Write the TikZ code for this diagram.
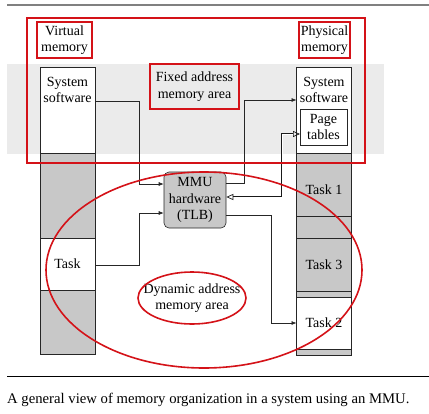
\documentclass[tikz,border=0pt]{standalone}
\usepackage{fontspec}
\setmainfont{Liberation Serif}
\usetikzlibrary{arrows.meta, positioning, shapes.geometric}
\definecolor{markred}{RGB}{212,18,24}
\definecolor{band}{RGB}{235,235,235}
\definecolor{used}{RGB}{200,200,200}
\tikzset{%
	seg/.style={
		draw=black!85,
		line width=0.6pt,
		fill=white,
		inner sep=0pt,
		outer sep=0pt,
		minimum width=55pt
	},
	busy/.style={seg, fill=used},
	txt/.style={align=center, inner sep=0pt},
	redbox/.style={draw=markred, line width=1.6pt, inner sep=0pt, align=center},
	redline/.style={draw=markred, line width=1.6pt},
	wire/.style={draw=black!85, line width=0.6pt, -{Latex[length=5pt,width=4pt]}},
	dbl/.style={
		draw=black!90, line width=0.75pt, double=white, double distance=1pt,
		{Triangle[open,length=7pt,width=6pt,line width=0.7pt]}-{Triangle[open,length=7pt,width=6pt,line width=0.7pt]}
	},
}
\begin{document}
\begin{tikzpicture}[x=1pt, y=-1pt, font=\fontsize{14pt}{16.5pt}\selectfont]
			\useasboundingbox (0,0) rectangle (429,413);
			\draw[black!50, line width=1.2pt] (7,5) -- (429,5);
			\fill[band] (7,64) rectangle (384,154);
			
			% virtual memory
			\node[seg, minimum height=86pt] (vsys) at (67.5,110) {};
			\node[busy, minimum height=85pt] (vfree1) at (67.5,195.5) {};
			\node[seg, minimum height=52pt] (vtask) at (67.5,264) {Task};
			\node[busy, minimum height=64pt] (vfree2) at (67.5,322) {};
			\node[txt] (vsystxt) at (67.5,90) {System\\software};
			
			% physical memory
			\node[seg, minimum height=86pt] (psys) at (324,110) {};
			\node[busy, minimum height=63pt, label={[txt,yshift=-5.5pt]center:Task 1}] (ptask1) at (324,184.5) {};
			\node[busy, minimum height=22pt] (pfree1) at (324,227) {};
			\node[busy, minimum height=53pt] (ptask3) at (324,264.5) {Task 3};
			\node[busy, minimum height=6pt] (pfree2) at (324,294) {};
			\node[seg, minimum height=52pt] (ptask2) at (324,323) {Task 2};
			\node[busy, minimum height=6pt] (pfree3) at (324,352) {};
			\node[txt] (psystxt) at (324,90) {System\\software};
			\node[seg, minimum width=47pt, minimum height=36pt, align=center] (ptab) at (323.5,127) {Page\\tables};
			
			\node[draw=black!85, line width=0.6pt, fill=used, rounded corners=5pt, minimum width=62pt, minimum height=56pt, inner sep=0pt, align=center] (mmu) at (195,200) {MMU\\hardware\\(TLB)};
			
			\draw[wire] (vsys.east |- 0,101) -- (139,101) -- (139,184) -- (mmu.west |- 0,184);
			\draw[wire] (vtask.east |- 0,265) -- (139,265) -- (139,213) -- (mmu.west |- 0,213);
			\draw[wire] (mmu.east |- 0,183) -- (244,183) -- (244,100) -- (psys.west |- 0,100);
			\draw[wire] (mmu.east |- 0,215) -- (271,215) -- (271,323) -- (ptask2.west |- 0,323);
			\draw[dbl] (ptab.west |- 0,134) -- (282,134) -- (282,197) -- (mmu.east |- 0,197);
			
			% marked areas
			\draw[redline] (27,18) rectangle (365,163);
			\node[redbox, minimum width=55pt, minimum height=36pt] (vlabel) at (64.5,40) {Virtual\\memory};
			\node[redbox, minimum width=51pt, minimum height=36pt] (plabel) at (324.5,40) {Physical\\memory};
			\node[redbox, fill=band, minimum width=89pt, minimum height=45pt] (fixed) at (194.5,86.5) {Fixed address\\memory area};
			\node[txt] (dyn) at (192,298) {Dynamic address\\memory area};
			\draw[redline] (dyn.center) ellipse [x radius=54, y radius=26];
			\draw[redline] (204,270) ellipse [x radius=158, y radius=98];
			
			\draw[black, line width=0.6pt] (7,376) -- (429,376);
			\node[anchor=west, inner sep=0pt, font=\fontsize{14.7pt}{17pt}\selectfont] (caption) at (7,400) {A general view of memory organization in a system using an MMU.};
		\end{tikzpicture}
\end{document}
